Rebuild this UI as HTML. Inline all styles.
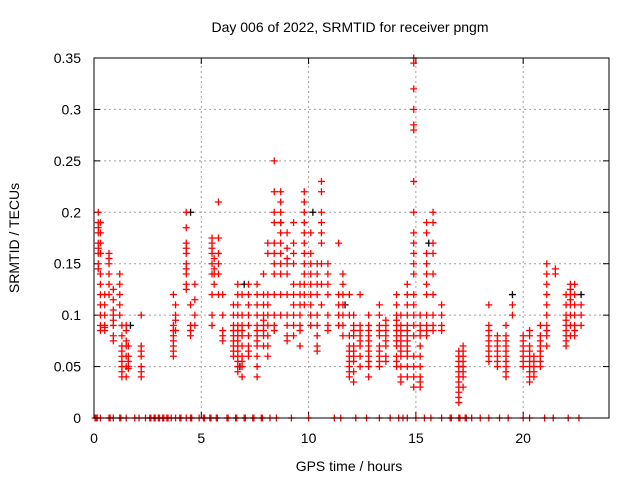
<!DOCTYPE html>
<html><head><meta charset="utf-8"><style>
body{margin:0;background:#fff}
svg{display:block;font-family:"Liberation Sans",sans-serif}
</style></head><body>
<svg id="chart" width="640" height="480" viewBox="0 0 640 480">
<text x="350" y="32" font-size="14" text-anchor="middle">Day 006 of 2022, SRMTID for receiver pngm</text>
<text x="349" y="471" font-size="14" text-anchor="middle">GPS time / hours</text>
<text transform="translate(19,238) rotate(-90)" font-size="14" text-anchor="middle">SRMTID / TECUs</text>
<g id="grid"></g><g id="marks"></g>
<rect x="94" y="58" width="515" height="360" fill="none" stroke="#000" stroke-width="1"/>
</svg>
<script>
const xTicks=[0,5,10,15,20];
const yTicks=[0,0.05,0.1,0.15,0.2,0.25,0.3,0.35];
const yTickLabels=["0","0.05","0.1","0.15","0.2","0.25","0.3","0.35"];
const colHours=[0.2,0.3,0.5,0.7,0.9,1.2,1.3,1.5,1.6,2.2,3.7,3.8,4.3,4.5,4.7,5.5,5.6,5.8,6.0,6.5,6.7,6.9,7.2,7.6,7.9,8.1,8.4,8.7,9.0,9.3,9.6,9.8,10.1,10.4,10.6,10.9,11.4,11.6,11.9,12.1,12.4,12.8,13.3,13.6,14.1,14.3,14.6,14.9,15.2,15.5,15.8,16.2,17.0,17.2,18.4,18.8,19.2,19.5,20.0,20.3,20.5,20.8,21.1,21.5,22.0,22.2,22.4,22.7];
const colValues=[
[.20,.19,.185,.18,.17,.165,.16,.15,.145],
[.19,.18,.17,.16,.14,.13,.12,.11,.10,.09,.085],
[.11,.10,.09,.088,.085,.12],
[.16,.155,.15,.14,.13,.12],
[.125,.115,.105,.1,.095,.09,.08,.075],
[.14,.13,.12,.11,.10],
[.09,.08,.07,.065,.06,.05,.045,.04,.055],
[.09,.085,.075,.07,.06,.05,.04],
[.07,.06,.055,.05,.048],
[.10,.07,.065,.06,.05,.045,.04],
[.12,.09,.085,.08,.075,.07,.065,.06],
[.11,.10,.095,.085],
[.20,.185,.17,.165,.16,.15,.145,.14,.13,.125],
[.11,.09,.085,.08],
[.115,.10,.09,.13],
[.175,.17,.165,.16,.15,.14,.12,.10,.09],
[.155,.145,.14,.13],
[.21,.175,.16,.15,.14,.12],
[.12,.10,.085,.08,.075],
[.11,.10,.09,.085,.08,.075,.07,.065,.06],
[.13,.12,.11,.10,.09,.085,.08,.075,.07,.065,.06,.055,.05,.045],
[.12,.10,.09,.085,.08,.07,.06,.055,.05,.04],
[.13,.12,.11,.10,.09,.08,.07,.065,.06],
[.13,.12,.11,.10,.09,.085,.08,.075,.07,.06,.05,.04],
[.14,.12,.11,.10,.095,.09,.085,.08,.07],
[.17,.16,.12,.11,.10,.09,.08,.07,.06],
[.25,.22,.20,.19,.17,.16,.15,.14,.12,.10,.09,.085],
[.22,.21,.20,.19,.18,.17,.16,.15,.14,.12,.10],
[.18,.165,.155,.15,.14,.12,.10,.09,.08,.075],
[.19,.17,.16,.15,.13,.12,.11,.10,.09,.08],
[.13,.12,.11,.10,.09,.085,.07],
[.22,.21,.20,.19,.18,.17,.16,.15,.14,.13,.12,.11],
[.18,.16,.15,.14,.13,.12,.11,.10,.09],
[.15,.14,.13,.12,.10,.09,.08,.07,.065],
[.23,.22,.20,.19,.18,.17,.15,.13,.11],
[.15,.14,.13,.12,.10,.09,.085],
[.17,.12,.11,.10,.09],
[.14,.13,.12,.11,.10,.09,.08],
[.12,.10,.08,.07,.065,.06,.055,.05,.045,.04],
[.10,.09,.085,.08,.07,.065,.06,.055,.045,.035],
[.12,.09,.085,.08,.075,.07,.06,.05],
[.10,.09,.085,.08,.075,.07,.065,.06,.055,.05,.04],
[.11,.10,.09,.085,.08,.07,.065,.06,.055,.05],
[.095,.09,.085,.08,.075,.07,.06,.055],
[.12,.11,.10,.095,.09,.085,.08,.075,.07,.06,.055,.05],
[.10,.09,.085,.08,.075,.07,.065,.06,.05,.04,.035],
[.13,.12,.11,.10,.09,.085,.08,.075,.07,.065,.06,.05,.04],
[.35,.345,.32,.30,.285,.28,.23,.20,.18,.17,.16,.15,.14,.12,.11,.10,.09,.08,.06,.05,.04,.03],
[.10,.09,.085,.08,.07,.06,.05,.04,.035,.03],
[.19,.18,.16,.15,.14,.13,.12,.10,.09,.085,.08],
[.20,.19,.17,.16,.14,.12,.10,.09,.085],
[.11,.10,.09,.085],
[.06,.055,.05,.045,.04,.035,.03,.025,.02,.015,.065],
[.07,.065,.06,.055,.05,.045,.04,.03],
[.11,.09,.085,.08,.075,.07,.065,.06,.055],
[.08,.075,.07,.065,.06,.055,.05],
[.09,.08,.075,.07,.065,.06,.055,.05,.045,.04],
[.11,.10],
[.08,.075,.07,.065,.06,.055,.05],
[.085,.08,.07,.065,.06,.055,.05,.045,.04,.035],
[.06,.055,.05,.045,.04],
[.09,.08,.075,.07,.065,.06,.055,.05],
[.15,.14,.13,.12,.11,.10,.09,.085,.08,.07],
[.145,.14],
[.12,.11,.10,.095,.09,.085,.08,.075,.07],
[.13,.125,.12,.115,.11,.10,.09,.08],
[.13,.12,.11,.10,.09,.085,.08],
[.11,.10,.09]
];
const blackHours=[4.5,7.0,8.7,10.2,11.7,15.6,19.5,22.7,1.7,6.8];
const blackValues=[.2,.13,.19,.2,.11,.17,.12,.12,.09,.05];
const zeroHours=[0.05,0.1,0.15,0.3,0.7,0.75,0.9,1.2,1.25,1.5,1.9,2.1,2.4,2.6,2.65,2.8,2.85,3.0,3.05,3.2,3.25,3.4,3.45,3.6,3.8,4.0,4.05,4.3,4.5,4.55,4.9,5.1,5.15,5.4,5.45,5.7,5.75,6.2,6.25,6.6,6.65,7.0,7.05,7.4,7.45,7.8,7.85,8.2,8.5,9.2,10.0,11.2,11.5,12.2,12.7,13.3,13.8,14.2,14.4,14.6,15.0,15.4,15.7,16.2,16.6,16.65,17.0,17.05,17.3,17.35,17.6,18.0,18.4,18.9,19.3,20.0,20.3,21.0,21.4,22.1,22.6];

const X0=94,X1=609,Y0=418,Y1=58,XMAX=24,YMAX=0.35;
const sx=h=>X0+h/XMAX*(X1-X0);
const sy=v=>Y0-v/YMAX*(Y0-Y1);
const NS="http://www.w3.org/2000/svg";
const grid=document.getElementById('grid'),marks=document.getElementById('marks');
function mk(tag,attrs,parent){const e=document.createElementNS(NS,tag);for(const k in attrs)e.setAttribute(k,attrs[k]);parent.appendChild(e);return e;}
yTicks.forEach((t,i)=>{
  const y=sy(t);
  if(i>0&&i<yTicks.length-1){const g=mk('line',{x1:X0,x2:X1,y1:y,y2:y,stroke:'#a0a0a0','stroke-dasharray':'2,3'},grid);
  
  }
  mk('line',{x1:X0,x2:X0+6,y1:y,y2:y,stroke:'#000'},grid);
  mk('line',{x1:X1,x2:X1-6,y1:y,y2:y,stroke:'#000'},grid);
  const l=mk('text',{x:81,y:y+5,'font-size':14,'text-anchor':'end'},grid);l.textContent=yTickLabels[i];
  
  
});
xTicks.forEach(t=>{
  const x=sx(t);
  if(t>0){const g=mk('line',{x1:x,x2:x,y1:Y0,y2:Y1,stroke:'#a0a0a0','stroke-dasharray':'2,3'},grid);
  
  }
  mk('line',{x1:x,x2:x,y1:Y0,y2:Y0-6,stroke:'#000'},grid);
  mk('line',{x1:x,x2:x,y1:Y1,y2:Y1+6,stroke:'#000'},grid);
  const l=mk('text',{x:x,y:443,'font-size':14,'text-anchor':'middle'},grid);l.textContent=String(t);
  
  
});
function plus(h,v,color,name){
  const x=sx(h),y=sy(v);
  const p=mk('path',{d:`M${x-3.5},${y}H${x+3.5}M${x},${y-3.5}V${y+3.5}`,stroke:color,'stroke-width':1.3,fill:'none'},marks);
  
  
}
blackHours.forEach((h,i)=>plus(h,blackValues[i],'#000','black-point'));
colHours.forEach((h,i)=>colValues[i].forEach(v=>plus(h,v,'#ff0000','srmtid-point')));
zeroHours.forEach(h=>plus(h,0,'#ff0000','zero-point'));
</script>
</body></html>
